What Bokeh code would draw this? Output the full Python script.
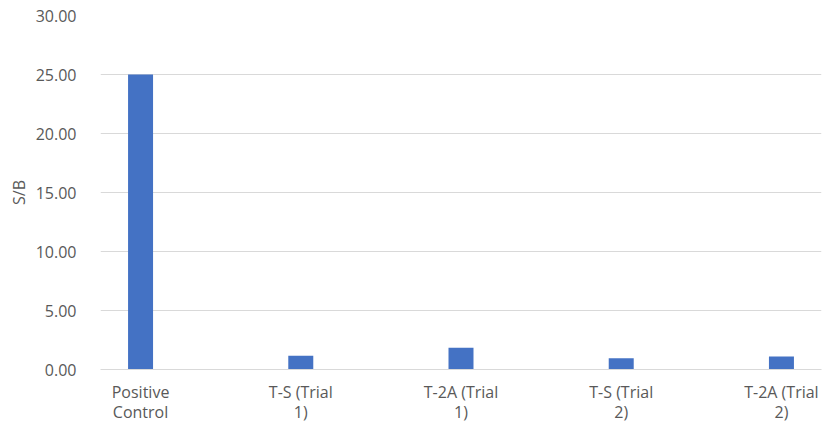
from bokeh.plotting import figure
from bokeh.models import ColumnDataSource, FixedTicker, Range1d, NumeralTickFormatter
from bokeh.embed import file_html
from bokeh.resources import INLINE

# Signal-to-background ratios per sample
categories = ["Positive\nControl", "T-S (Trial\n1)", "T-2A (Trial\n1)", "T-S (Trial\n2)", "T-2A (Trial\n2)"]
sb_values = [25.0, 1.16, 1.84, 0.96, 1.10]
y_ticks = [0, 5, 10, 15, 20, 25, 30]

positions = list(range(len(categories)))
source = ColumnDataSource(data=dict(x=positions, top=sb_values))

p = figure(
    width=836, height=427,
    output_backend="svg", toolbar_location=None,
    x_range=Range1d(-0.25, len(categories) - 0.75),
    y_range=Range1d(0, 30),
    min_border_left=100, min_border_right=15,
    min_border_top=15, min_border_bottom=58,
)
p.outline_line_color = None
p.background_fill_color = "white"
p.border_fill_color = "white"

p.vbar(x="x", top="top", width=0.156, source=source,
       fill_color="#4472C4", line_color=None)

grey_text = "#595959"
font = "Open Sans"

# y axis
p.yaxis.ticker = FixedTicker(ticks=y_ticks)
p.yaxis.formatter = NumeralTickFormatter(format="0.00")
p.yaxis.axis_line_color = None
p.yaxis.major_tick_line_color = None
p.yaxis.minor_tick_line_color = None
p.yaxis.major_label_standoff = 18
p.yaxis.major_label_text_font = font
p.yaxis.major_label_text_font_size = "16px"
p.yaxis.major_label_text_color = grey_text
p.yaxis.axis_label = "S/B"
p.yaxis.axis_label_text_font = font
p.yaxis.axis_label_text_font_size = "16px"
p.yaxis.axis_label_text_font_style = "normal"
p.yaxis.axis_label_text_color = grey_text
p.yaxis.axis_label_standoff = 3

# x axis
p.xaxis.ticker = FixedTicker(ticks=positions)
p.xaxis.major_label_overrides = {i: c for i, c in zip(positions, categories)}
p.xaxis.axis_line_color = "#D9D9D9"
p.xaxis.major_tick_line_color = None
p.xaxis.minor_tick_line_color = None
p.xaxis.major_label_standoff = 5
p.xaxis.major_label_text_font = font
p.xaxis.major_label_text_font_size = "16px"
p.xaxis.major_label_text_line_height = 0.95
p.xaxis.major_label_text_color = grey_text

p.xgrid.grid_line_color = None
p.ygrid.grid_line_color = "#D9D9D9"
p.ygrid.grid_line_width = 1

open("out.html", "w").write(file_html(p, INLINE))
